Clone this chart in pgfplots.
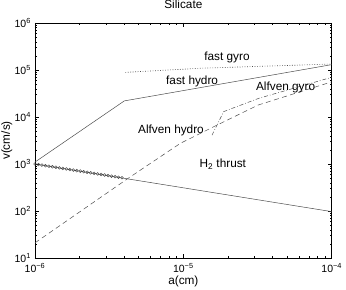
\documentclass[border=0pt]{standalone}
\usepackage{fontspec}
\setmainfont{Liberation Sans}
\usepackage{pgfplots}
\pgfplotsset{compat=1.18}
\begin{document}%
\fontsize{11.8bp}{14bp}\selectfont%
\begin{tikzpicture}
\useasboundingbox (-35bp,-32bp) rectangle (311bp,258bp);
\begin{axis}[
 at={(0,0)}, anchor=south west,
 scale only axis, width=296.7bp, height=235bp,
 xmode=log, ymode=log,
 xmin=1e-6, xmax=1e-4, ymin=1e1, ymax=1e6,
 xtick={1e-6,1e-5,1e-4},
 xticklabels={10\textsuperscript{−6},10\textsuperscript{−5},10\textsuperscript{−4}},
 ytick={1e1,1e2,1e3,1e4,1e5,1e6},
 yticklabels={10\textsuperscript{1},10\textsuperscript{2},10\textsuperscript{3},10\textsuperscript{4},10\textsuperscript{5},10\textsuperscript{6}},
 tick label style={font=\fontsize{10.5bp}{12bp}\selectfont},
 xticklabel style={yshift=-1.5bp},
 tick align=inside,
 major tick length=4bp, minor tick length=2bp,
 tick style={black, line width=0.4pt},
 axis line style={line width=0.5pt},
 title={Silicate}, xlabel={a(cm)}, ylabel={v(cm/s)},
 title style={at={(axis description cs:0.5,1.055)}, anchor=center, inner sep=0pt},
 xlabel style={at={(axis description cs:0.5,-0.1)}, anchor=center, inner sep=0pt},
 ylabel style={at={(axis description cs:-0.095,0.5)}, anchor=center, inner sep=0pt},
 every axis plot/.append style={line width=0.5pt, draw=black!70},
 clip=true,
]
% fast hydro
\addplot[solid, mark=none] coordinates {(1e-6,1.1e3) (4.0e-6,2.2e4) (1e-4,1.3e5)};
% fast gyro
\addplot[dash pattern=on 0.8pt off 1.7pt, line width=0.65pt, mark=none] coordinates {(4.06e-6,8.9e4) (1.3e-5,1.09e5) (1e-4,1.34e5)};
% Alfven hydro
\addplot[dash pattern=on 5pt off 3.5pt, mark=none] coordinates {(1e-6,21) (4.25e-6,497) (9.55e-6,2754) (1.64e-5,6.44e3) (3.2e-5,1.8e4) (1e-4,5.6e4)};
% Alfven gyro
\addplot[dash pattern=on 4pt off 2pt on 0.7pt off 2pt, mark=none] coordinates {(1.56e-5,4.1e3) (1.87e-5,1.3e4) (2.1e-5,1.5e4) (3.23e-5,2.5e4) (1e-4,7e4)};
% H2 thrust line
\addplot[solid, mark=none] coordinates {(1e-6,1000) (1e-4,97)};
% H2 thrust markers
\addplot[only marks, mark=o, mark size=1.45pt, mark options={draw=black!80, line width=0.35pt}] coordinates {
(1.0000e-6,1000.0) (1.0555e-6,973.4) (1.1141e-6,947.4) (1.1759e-6,922.2) (1.2413e-6,897.6)
(1.3101e-6,873.7) (1.3829e-6,850.4) (1.4597e-6,827.7) (1.5408e-6,805.6) (1.6263e-6,784.2)
(1.7165e-6,763.3) (1.8118e-6,742.9) (1.9124e-6,723.1) (2.0184e-6,703.8) (2.1306e-6,685.1)
(2.2488e-6,666.8) (2.3737e-6,649.1) (2.5054e-6,631.8) (2.6446e-6,614.9) (2.7913e-6,598.5)
(2.9463e-6,582.6) (3.1099e-6,567.1) (3.2825e-6,551.9) (3.4648e-6,537.3) (3.6570e-6,522.9)
(3.8600e-6,509.0)};
\node at (axis cs:1.97e-5,1.86e5) {fast gyro};
\node at (axis cs:1.146e-5,5.8e4) {fast hydro};
\node at (axis cs:4.89e-5,4.28e4) {Alfven gyro};
\node at (axis cs:8.26e-6,5.1e3) {Alfven hydro};
\node at (axis cs:1.845e-5,1e3) {H\textsubscript{2} thrust};
\end{axis}
\end{tikzpicture}%
\end{document}
